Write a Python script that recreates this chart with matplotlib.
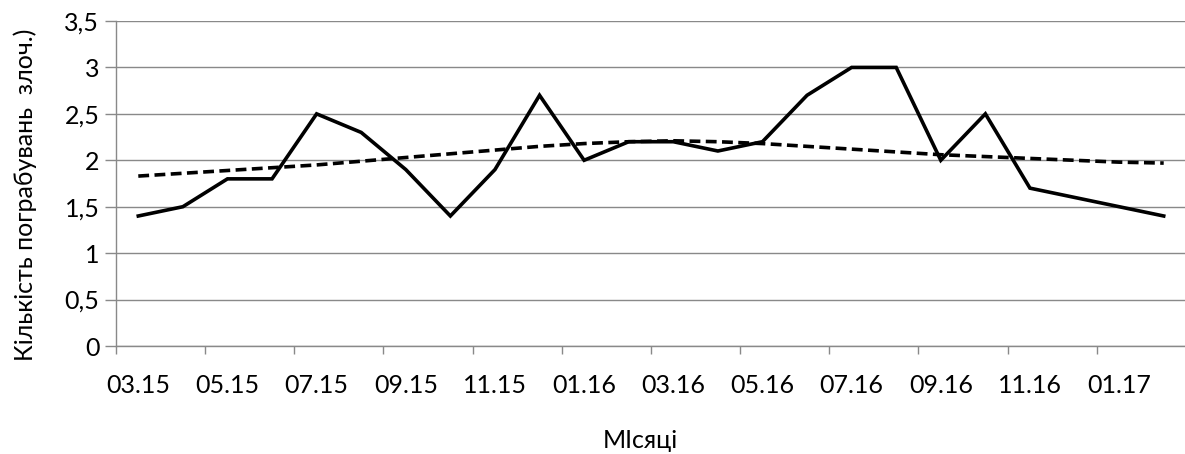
import numpy as np
import matplotlib
matplotlib.use("Agg")
import matplotlib.pyplot as plt

months = ["03.15", "04.15", "05.15", "06.15", "07.15", "08.15", "09.15", "10.15",
          "11.15", "12.15", "01.16", "02.16", "03.16", "04.16", "05.16", "06.16",
          "07.16", "08.16", "09.16", "10.16", "11.16", "12.16", "01.17", "02.17"]
values = [1.4, 1.5, 1.8, 1.8, 2.5, 2.3, 1.9, 1.4, 1.9, 2.7, 2.0, 2.2,
          2.2, 2.1, 2.2, 2.7, 3.0, 3.0, 2.0, 2.5, 1.7, 1.6, 1.5, 1.4]
# trend line values
trend = [1.83, 1.86, 1.89, 1.92, 1.95, 1.99, 2.03, 2.07, 2.11, 2.15, 2.18, 2.20,
         2.21, 2.20, 2.18, 2.15, 2.12, 2.09, 2.06, 2.04, 2.02, 2.00, 1.98, 1.97]
yticks = [0, 0.5, 1, 1.5, 2, 2.5, 3, 3.5]
ytick_labels = ["0", "0,5", "1", "1,5", "2", "2,5", "3", "3,5"]

plt.rcParams['font.family'] = ['Lato', 'DejaVu Sans']
FS = 18

fig = plt.figure(figsize=(11.85, 4.54), dpi=100)
ax = fig.add_axes([116/1185, 1 - 346/454, 1070/1185, 325/454])

x = np.arange(len(values))
ax.plot(x, values, color='black', lw=2.6, solid_joinstyle='miter', zorder=3)
ax.plot(x, trend, color='black', lw=2.6, ls=(0, (3.0, 1.5)), zorder=3)

grey = '#898989'
ax.set_xlim(-0.5, len(values) - 0.5)
ax.set_ylim(0, 3.5)
ax.set_yticks(yticks)
ax.set_yticklabels(ytick_labels)
ax.yaxis.grid(True, color=grey, lw=1)
ax.set_axisbelow(True)

ax.set_xticks(x[::2])
ax.set_xticklabels(months[::2])
ax.set_xticks(np.arange(-0.5, len(values), 2), minor=True)
ax.tick_params(axis='x', which='major', length=0, pad=20, labelsize=FS)
ax.tick_params(axis='x', which='minor', length=6, color=grey, width=1)
ax.tick_params(axis='y', length=8, color=grey, width=1, pad=4, labelsize=FS)

for s in ['top', 'right']:
    ax.spines[s].set_visible(False)
for s in ['left', 'bottom']:
    ax.spines[s].set_color(grey)
    ax.spines[s].set_linewidth(1)

fig.text(25/1185, 1 - 195/454, "Кількість пограбувань  злоч.)", rotation=90,
         ha='center', va='center', fontsize=FS)
fig.text(640/1185, 1 - 441/454, "МIсяці", ha='center', va='center', fontsize=FS)

fig.savefig("out.png", dpi=100)
